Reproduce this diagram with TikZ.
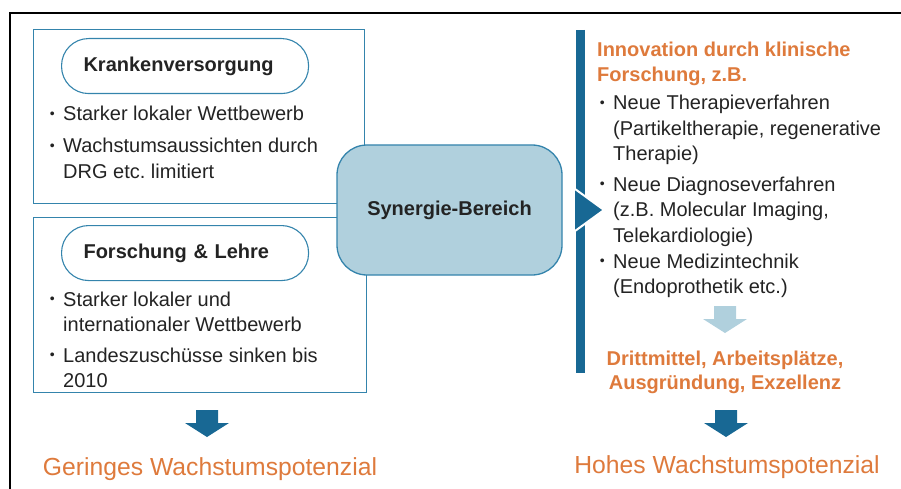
\documentclass[tikz,border=0pt]{standalone}
\usepackage{fontspec}
\setmainfont{Liberation Sans}
\frenchspacing
\definecolor{boxblue}{RGB}{52,132,172}
\definecolor{darkblue}{RGB}{24,104,148}
\definecolor{lightblue}{RGB}{176,208,221}
\definecolor{orng}{RGB}{222,122,60}
\definecolor{txtgray}{RGB}{35,35,35}
\newcommand\bul{\llap{\raisebox{2.5pt}{\fontsize{14}{14}\selectfont\textbullet}\hspace{8.5pt}}}
\newcommand\vl[1]{\vtop{\halign{##\hfil\cr#1\crcr}}}
\newcommand\vc[1]{\vtop{\halign{\hfil##\hfil\cr#1\crcr}}}
\newcommand\blockarrow[3]{%
  \fill[#3] (#1-11,#2) -- (#1+11,#2) -- (#1+11,#2+13) -- (#1+22,#2+13) -- (#1,#2+27)
    -- (#1-22,#2+13) -- (#1-11,#2+13) -- cycle;}
\begin{document}
\begin{tikzpicture}[x=1pt,y=-1pt,
  every node/.style={inner sep=0pt},
  panel/.style={draw=boxblue, line width=1.2pt, anchor=north west},
  pill/.style={draw=boxblue, line width=1.1pt, rounded corners=27pt, minimum height=55pt,
    text width=203pt, inner xsep=22pt, align=left, anchor=north west,
    font=\fontsize{20}{24}\selectfont\bfseries, text=txtgray},
  item/.style={anchor=base west, font=\fontsize{20}{25.5}\selectfont, text=txtgray},
  head/.style={font=\fontsize{20}{24.5}\selectfont\bfseries, text=orng},
  title/.style={anchor=base, font=\fontsize{24.7}{28}\selectfont, text=orng},
  synergy/.style={draw=boxblue, line width=1.3pt, fill=lightblue, rounded corners=30pt,
    minimum width=225pt, minimum height=130pt,
    font=\fontsize{20}{24}\selectfont\bfseries, text=txtgray}
]
\useasboundingbox (0,0) rectangle (901,489);
% frame
\coordinate (fr1) at (901,13);
\coordinate (fr2) at (10,13);
\coordinate (fr3) at (10,489);
\draw[line width=2pt] (fr1) -- (fr2) -- (fr3);

% left panels
\node[panel, minimum width=331pt, minimum height=174pt] (box1) at (33,29) {};
\node[panel, minimum width=333pt, minimum height=175pt] (box2) at (33,217) {};
\node[pill] (pill1) at (61,38) {Krankenversorgung};
\node[pill] (pill2) at (61,225) {Forschung \& Lehre};

\node[item] (k1) at (63,121) {\bul Starker lokaler Wettbewerb};
\node[item] (k2) at (63,153) {\vl{\bul Wachstumsaussichten durch\cr DRG etc. limitiert}};
\node[item] (f1) at (63,306) {\vl{\bul Starker lokaler und\cr internationaler Wettbewerb}};
\node[item] (f2) at (63,362) {\vl{\bul Landeszuschüsse sinken bis\cr 2010}};

% synergy
\node[synergy] (syn) at (449.5,210) {Synergie-Bereich};

% bar and triangle
\coordinate (bartop) at (580,30);
\coordinate (barbot) at (580,373);
\draw[darkblue, line width=9pt] (bartop) -- (barbot);
\coordinate (tA) at (575,189);
\coordinate (tB) at (604,210);
\coordinate (tC) at (575,231);
\fill[darkblue] (tA) -- (tB) -- (tC) -- cycle;
\draw[white, line width=2pt] (tA) -- (tB) -- (tC);

% right text
\node[head, anchor=base west] (inno) at (597,57) {\vl{Innovation durch klinische\cr Forschung, z.B.}};
\node[item] (r1) at (613,110) {\vl{\bul Neue Therapieverfahren\cr (Partikeltherapie, regenerative\cr Therapie)}};
\node[item] (r2) at (613,191) {\vl{\bul Neue Diagnoseverfahren\cr (z.B. Molecular Imaging,\cr Telekardiologie)}};
\node[item] (r3) at (613,268) {\vl{\bul Neue Medizintechnik\cr (Endoprothetik etc.)}};

\blockarrow{725}{306}{lightblue}
\node[head, anchor=base] (res) at (725,365) {\vc{Drittmittel, Arbeitsplätze,\cr Ausgründung, Exzellenz}};

\blockarrow{726}{410}{darkblue}
\blockarrow{207}{410}{darkblue}

\node[title] (hoch) at (727,473) {Hohes Wachstumspotenzial};
\node[title] (gering) at (210,475) {Geringes Wachstumspotenzial};
\end{tikzpicture}
\end{document}
